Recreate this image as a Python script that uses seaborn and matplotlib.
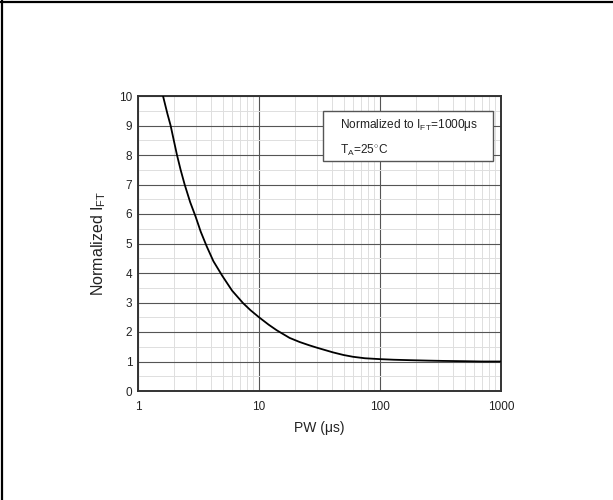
import matplotlib
matplotlib.use("Agg")
import matplotlib.pyplot as plt
from matplotlib.lines import Line2D
from matplotlib.patches import Rectangle
from matplotlib.ticker import LogLocator, MultipleLocator, FixedLocator, FixedFormatter, NullFormatter
import seaborn as sns
import pandas as pd

# Pulse width (us) vs. normalized trigger current
pw_us = [1.61, 1.75, 1.86, 2.0, 2.1, 2.25, 2.43, 2.7, 3.0, 3.3, 3.7, 4.2, 4.98,
         6.0, 7.38, 8.5, 10, 12, 14, 17.9, 21.7, 26, 30, 35, 40.8, 50, 59.8,
         75, 100, 130, 176, 250, 331, 500, 700, 1000]
ift_norm = [10, 9.4, 9.0, 8.4, 8.0, 7.5, 7.0, 6.4, 5.9, 5.4, 4.9, 4.4, 3.9,
            3.4, 2.98, 2.74, 2.5, 2.25, 2.06, 1.8, 1.66, 1.55, 1.47, 1.39, 1.31,
            1.22, 1.16, 1.11, 1.08, 1.06, 1.045, 1.03, 1.02, 1.01, 1.0, 1.0]

x_ticks = [1, 10, 100, 1000]
x_tick_labels = ["1", "10", "100", "1000"]
y_ticks = list(range(0, 11))

sns.set_style("white")
plt.rcParams["font.family"] = ["Liberation Sans", "DejaVu Sans"]
plt.rcParams["mathtext.fontset"] = "custom"
plt.rcParams["mathtext.rm"] = "Liberation Sans"
plt.rcParams["mathtext.it"] = "Liberation Sans"

df = pd.DataFrame({"PW": pw_us, "IFT": ift_norm})

fig = plt.figure(figsize=(6.13, 5.0), dpi=100)
ax = fig.add_axes([0.2251, 0.218, 0.5922, 0.590])

sns.lineplot(data=df, x="PW", y="IFT", ax=ax, color="black", linewidth=1.3,
             zorder=5)

ax.set_xscale("log")
ax.set_xlim(1, 1000)
ax.set_ylim(0, 10)

ax.xaxis.set_major_locator(FixedLocator(x_ticks))
ax.xaxis.set_major_formatter(FixedFormatter(x_tick_labels))
ax.xaxis.set_minor_locator(LogLocator(base=10, subs=range(2, 10)))
ax.xaxis.set_minor_formatter(NullFormatter())
ax.yaxis.set_major_locator(FixedLocator(y_ticks))
ax.yaxis.set_minor_locator(MultipleLocator(0.5))

ax.grid(which="major", color="#555555", linewidth=0.8)
ax.grid(which="minor", color="#dedede", linewidth=0.7)
ax.set_axisbelow(True)

ax.tick_params(which="both", length=0, labelsize=8.5, colors="#222222")
ax.tick_params(axis="y", pad=4)
ax.tick_params(axis="x", pad=7)
for s in ax.spines.values():
    s.set_color("#333333")
    s.set_linewidth(1.4)

ax.set_xlabel("PW (\u03bcs)", fontsize=10, labelpad=6, color="#222222")
ax.set_ylabel(r"Normalized I$_{\mathrm{FT}}$", fontsize=11.5, labelpad=8,
              color="#222222")

# annotation box with the test conditions
ax.add_patch(Rectangle((0.510, 0.781), 0.468, 0.169, transform=ax.transAxes,
                       facecolor="white", edgecolor="#555555", linewidth=1.0,
                       zorder=6))
ax.text(0.556, 0.902, r"Normalized to I$_{\mathrm{FT}}$=1000$\mu$s",
        transform=ax.transAxes, fontsize=8.6, va="center", ha="left",
        color="#222222", zorder=7)
ax.text(0.556, 0.815, r"T$_{\mathrm{A}}$=25$^{\circ}$C",
        transform=ax.transAxes, fontsize=8.6, va="center", ha="left",
        color="#222222", zorder=7)

# frame lines along the top and left edges of the figure
fig.add_artist(Line2D([0, 1], [0.996, 0.996], transform=fig.transFigure,
                      color="black", linewidth=1.6))
fig.add_artist(Line2D([0.0033, 0.0033], [0, 1], transform=fig.transFigure,
                      color="black", linewidth=1.6))

fig.savefig("out.png", dpi=100)
